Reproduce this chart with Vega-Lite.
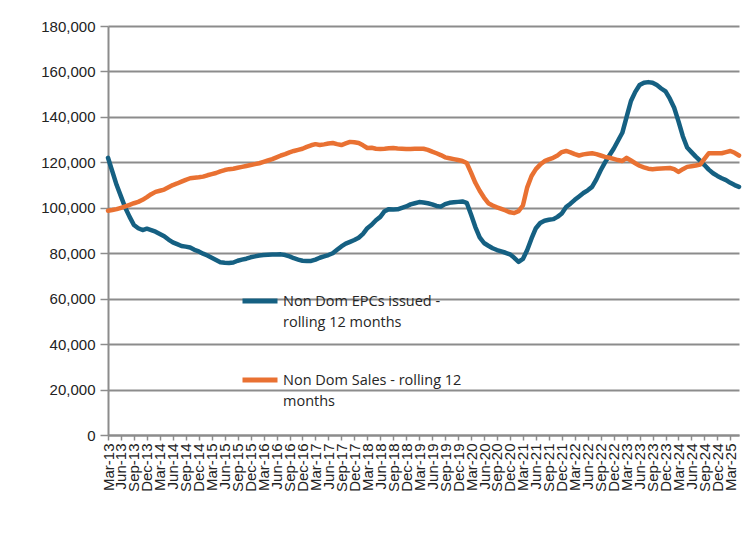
{
  "$schema": "https://vega.github.io/schema/vega-lite/v6.json",
  "width": 631,
  "height": 409,
  "autosize": {"type": "none"},
  "padding": {"left": 108, "top": 26, "right": 15, "bottom": 113},
  "background": "white",
  "config": {"view": {"stroke": null}},
  "data": {"values": [
    {"m":"Mar-13","e":122000,"s":98700},{"m":"Apr-13","e":116000,"s":99000},{"m":"May-13","e":110000,"s":99400},
    {"m":"Jun-13","e":105000,"s":100000},{"m":"Jul-13","e":100000,"s":100600},{"m":"Aug-13","e":96000,"s":101300},
    {"m":"Sep-13","e":92400,"s":102000},{"m":"Oct-13","e":91000,"s":102600},{"m":"Nov-13","e":90200,"s":103500},
    {"m":"Dec-13","e":90800,"s":104700},{"m":"Jan-14","e":90200,"s":106000},{"m":"Feb-14","e":89500,"s":107000},
    {"m":"Mar-14","e":88500,"s":107500},{"m":"Apr-14","e":87500,"s":108000},{"m":"May-14","e":86000,"s":109000},
    {"m":"Jun-14","e":84800,"s":110000},{"m":"Jul-14","e":84000,"s":110700},{"m":"Aug-14","e":83200,"s":111500},
    {"m":"Sep-14","e":82900,"s":112300},{"m":"Oct-14","e":82500,"s":113000},{"m":"Nov-14","e":81500,"s":113200},
    {"m":"Dec-14","e":80800,"s":113400},{"m":"Jan-15","e":79800,"s":113700},{"m":"Feb-15","e":79000,"s":114300},
    {"m":"Mar-15","e":78000,"s":114800},{"m":"Apr-15","e":77000,"s":115300},{"m":"May-15","e":76000,"s":116000},
    {"m":"Jun-15","e":75800,"s":116600},{"m":"Jul-15","e":75700,"s":117000},{"m":"Aug-15","e":75900,"s":117200},
    {"m":"Sep-15","e":76700,"s":117600},{"m":"Oct-15","e":77200,"s":118000},{"m":"Nov-15","e":77600,"s":118400},
    {"m":"Dec-15","e":78200,"s":118800},{"m":"Jan-16","e":78600,"s":119200},{"m":"Feb-16","e":79000,"s":119600},
    {"m":"Mar-16","e":79200,"s":120200},{"m":"Apr-16","e":79300,"s":120800},{"m":"May-16","e":79400,"s":121400},
    {"m":"Jun-16","e":79400,"s":122200},{"m":"Jul-16","e":79500,"s":123000},{"m":"Aug-16","e":79200,"s":123600},
    {"m":"Sep-16","e":78600,"s":124400},{"m":"Oct-16","e":77800,"s":125000},{"m":"Nov-16","e":77200,"s":125500},
    {"m":"Dec-16","e":76700,"s":126000},{"m":"Jan-17","e":76600,"s":126800},{"m":"Feb-17","e":76600,"s":127500},
    {"m":"Mar-17","e":77200,"s":128000},{"m":"Apr-17","e":78000,"s":127600},{"m":"May-17","e":78600,"s":127900},
    {"m":"Jun-17","e":79200,"s":128300},{"m":"Jul-17","e":80000,"s":128500},{"m":"Aug-17","e":81500,"s":128000},
    {"m":"Sep-17","e":83000,"s":127600},{"m":"Oct-17","e":84200,"s":128300},{"m":"Nov-17","e":85000,"s":129000},
    {"m":"Dec-17","e":85800,"s":128800},{"m":"Jan-18","e":86800,"s":128500},{"m":"Feb-18","e":88500,"s":127500},
    {"m":"Mar-18","e":91000,"s":126300},{"m":"Apr-18","e":92500,"s":126400},{"m":"May-18","e":94500,"s":126000},
    {"m":"Jun-18","e":96000,"s":125900},{"m":"Jul-18","e":98500,"s":126000},{"m":"Aug-18","e":99400,"s":126200},
    {"m":"Sep-18","e":99200,"s":126300},{"m":"Oct-18","e":99300,"s":126100},{"m":"Nov-18","e":100000,"s":126000},
    {"m":"Dec-18","e":100600,"s":125900},{"m":"Jan-19","e":101500,"s":125900},{"m":"Feb-19","e":102000,"s":126000},
    {"m":"Mar-19","e":102500,"s":126000},{"m":"Apr-19","e":102300,"s":126000},{"m":"May-19","e":102000,"s":125500},
    {"m":"Jun-19","e":101500,"s":124700},{"m":"Jul-19","e":100800,"s":124000},{"m":"Aug-19","e":100500,"s":123200},
    {"m":"Sep-19","e":101600,"s":122200},{"m":"Oct-19","e":102200,"s":121800},{"m":"Nov-19","e":102400,"s":121400},
    {"m":"Dec-19","e":102600,"s":121000},{"m":"Jan-20","e":102800,"s":120600},{"m":"Feb-20","e":102200,"s":119700},
    {"m":"Mar-20","e":97000,"s":115500},{"m":"Apr-20","e":91500,"s":111000},{"m":"May-20","e":87000,"s":107500},
    {"m":"Jun-20","e":84500,"s":104500},{"m":"Jul-20","e":83300,"s":102000},{"m":"Aug-20","e":82200,"s":101000},
    {"m":"Sep-20","e":81400,"s":100200},{"m":"Oct-20","e":80800,"s":99500},{"m":"Nov-20","e":80200,"s":98800},
    {"m":"Dec-20","e":79500,"s":98000},{"m":"Jan-21","e":78000,"s":97700},{"m":"Feb-21","e":76200,"s":98500},
    {"m":"Mar-21","e":77500,"s":101000},{"m":"Apr-21","e":81400,"s":109000},{"m":"May-21","e":86500,"s":114000},
    {"m":"Jun-21","e":91000,"s":117000},{"m":"Jul-21","e":93300,"s":119000},{"m":"Aug-21","e":94300,"s":120500},
    {"m":"Sep-21","e":94700,"s":121300},{"m":"Oct-21","e":95000,"s":122000},{"m":"Nov-21","e":96000,"s":123000},
    {"m":"Dec-21","e":97500,"s":124500},{"m":"Jan-22","e":100300,"s":125000},{"m":"Feb-22","e":101800,"s":124400},
    {"m":"Mar-22","e":103500,"s":123600},{"m":"Apr-22","e":105000,"s":123000},{"m":"May-22","e":106500,"s":123500},
    {"m":"Jun-22","e":107700,"s":123800},{"m":"Jul-22","e":109200,"s":124000},{"m":"Aug-22","e":112500,"s":123600},
    {"m":"Sep-22","e":116500,"s":123000},{"m":"Oct-22","e":120000,"s":122400},{"m":"Nov-22","e":123000,"s":122000},
    {"m":"Dec-22","e":126000,"s":121500},{"m":"Jan-23","e":129500,"s":121000},{"m":"Feb-23","e":133000,"s":120600},
    {"m":"Mar-23","e":140000,"s":122000},{"m":"Apr-23","e":147000,"s":120800},{"m":"May-23","e":151000,"s":119600},
    {"m":"Jun-23","e":154000,"s":118500},{"m":"Jul-23","e":155000,"s":117800},{"m":"Aug-23","e":155300,"s":117200},
    {"m":"Sep-23","e":155000,"s":117000},{"m":"Oct-23","e":154000,"s":117200},{"m":"Nov-23","e":152500,"s":117300},
    {"m":"Dec-23","e":151200,"s":117400},{"m":"Jan-24","e":148000,"s":117500},{"m":"Feb-24","e":144000,"s":117000},
    {"m":"Mar-24","e":138000,"s":115800},{"m":"Apr-24","e":131500,"s":117000},{"m":"May-24","e":126500,"s":118000},
    {"m":"Jun-24","e":124500,"s":118300},{"m":"Jul-24","e":122500,"s":118600},{"m":"Aug-24","e":120700,"s":119000},
    {"m":"Sep-24","e":118800,"s":121500},{"m":"Oct-24","e":116800,"s":124000},{"m":"Nov-24","e":115200,"s":124000},
    {"m":"Dec-24","e":114000,"s":124000},{"m":"Jan-25","e":113000,"s":124000},{"m":"Feb-25","e":112200,"s":124500},
    {"m":"Mar-25","e":111000,"s":125000},{"m":"Apr-25","e":110000,"s":124200},{"m":"May-25","e":109200,"s":123000}
  ]},
  "transform": [
    {"fold": ["e", "s"], "as": ["key", "value"]},
    {"lookup": "key", "from": {"data": {"values": [
      {"key": "e", "series": "Non Dom EPCs issued - rolling 12 months"},
      {"key": "s", "series": "Non Dom Sales - rolling 12 months"}
    ]}, "key": "key", "fields": ["series"]}}
  ],
  "mark": {"type": "line", "strokeWidth": 4.5, "strokeJoin": "round", "strokeCap": "round"},
  "encoding": {
    "x": {
      "field": "m", "type": "ordinal", "sort": null,
      "scale": {"type": "point", "padding": 0},
      "axis": {
        "title": null,
        "values": ["Mar-13","Jun-13","Sep-13","Dec-13","Mar-14","Jun-14","Sep-14","Dec-14","Mar-15","Jun-15","Sep-15","Dec-15","Mar-16","Jun-16","Sep-16","Dec-16","Mar-17","Jun-17","Sep-17","Dec-17","Mar-18","Jun-18","Sep-18","Dec-18","Mar-19","Jun-19","Sep-19","Dec-19","Mar-20","Jun-20","Sep-20","Dec-20","Mar-21","Jun-21","Sep-21","Dec-21","Mar-22","Jun-22","Sep-22","Dec-22","Mar-23","Jun-23","Sep-23","Dec-23","Mar-24","Jun-24","Sep-24","Dec-24","Mar-25"],
        "labelAngle": 270,
        "labelFont": "Liberation Sans",
        "labelFontSize": 15,
        "labelColor": "#222222",
        "labelPadding": 3,
        "labelOverlap": false,
        "labelBound": false,
        "tickColor": "#8c8c8c",
        "tickSize": 5,
        "tickWidth": 1.5,
        "domainColor": "#8c8c8c",
        "domainWidth": 2,
        "grid": false
      }
    },
    "y": {
      "field": "value", "type": "quantitative",
      "scale": {"domain": [0, 180000], "nice": false},
      "axis": {
        "title": null,
        "values": [0,20000,40000,60000,80000,100000,120000,140000,160000,180000],
        "format": ",d",
        "labelFont": "Liberation Sans",
        "labelFontSize": 15,
        "labelColor": "#222222",
        "labelPadding": 5,
        "tickColor": "#8c8c8c",
        "tickSize": 8,
        "tickWidth": 1.5,
        "domainColor": "#8c8c8c",
        "domainWidth": 2,
        "grid": true,
        "gridColor": "#8c8c8c",
        "gridWidth": 2
      }
    },
    "color": {
      "field": "series", "type": "nominal",
      "scale": {
        "domain": ["Non Dom EPCs issued - rolling 12 months", "Non Dom Sales - rolling 12 months"],
        "range": ["#156082", "#E97132"]
      },
      "legend": {
        "title": null,
        "orient": "none",
        "legendX": 132,
        "legendY": 255,
        "direction": "vertical",
        "symbolType": "stroke",
        "symbolSize": 1225,
        "symbolStrokeWidth": 5,
        "labelFont": "Open Sans",
        "labelFontSize": 14.5,
        "labelColor": "#262626",
        "labelOffset": 3,
        "labelLimit": 300,
        "labelBaseline": "alphabetic",
        "rowPadding": 30,
        "labelExpr": "datum.label == 'Non Dom EPCs issued - rolling 12 months' ? ['Non Dom EPCs issued -', 'rolling 12 months'] : ['Non Dom Sales - rolling 12', 'months']",
        "encode": {"labels": {"update": {"lineHeight": {"value": 21}, "dy": {"value": 5}}}}
      }
    }
  }
}
